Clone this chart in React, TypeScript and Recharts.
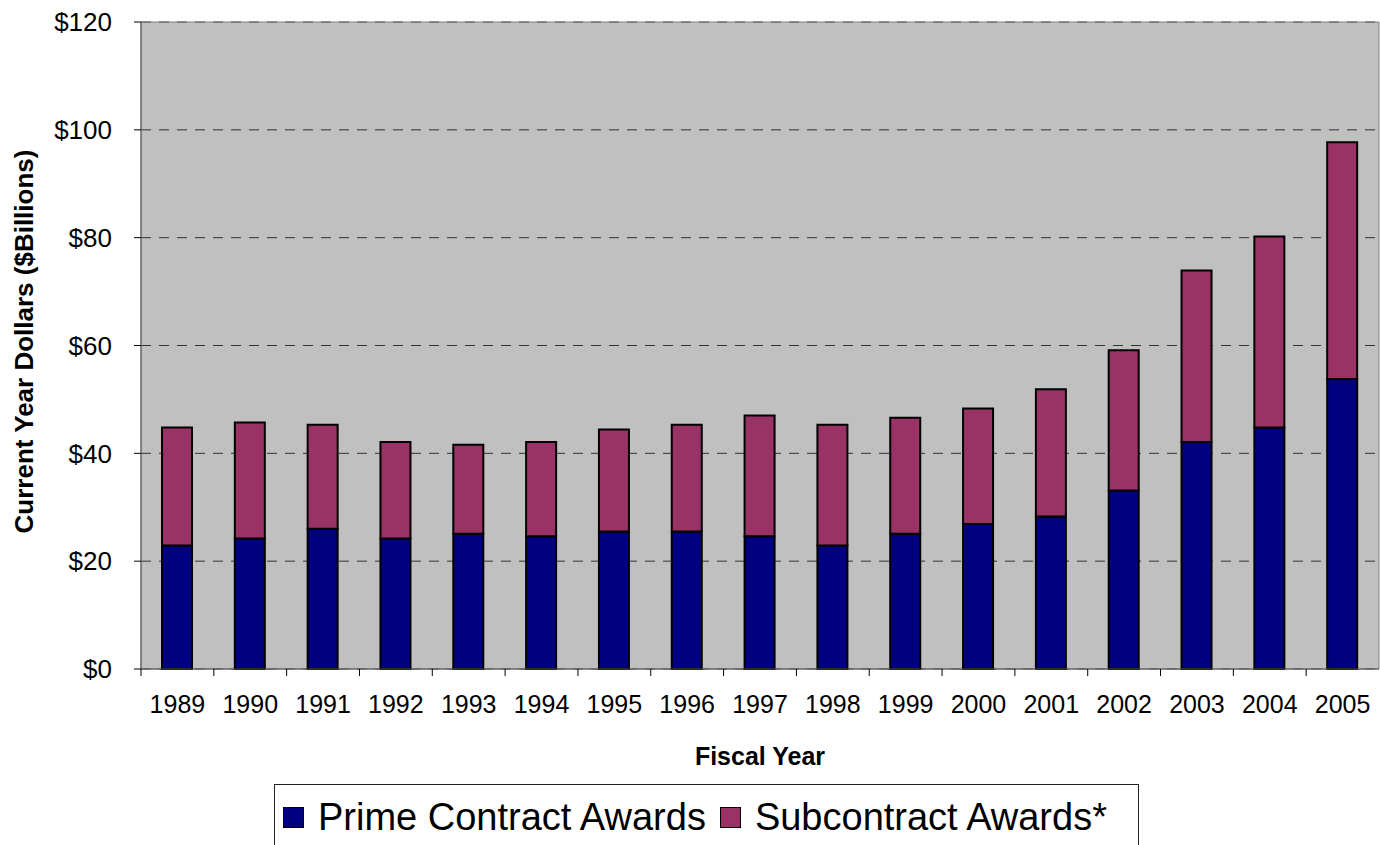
import { BarChart, Bar, XAxis, YAxis, CartesianGrid, ReferenceArea } from 'recharts'

// Fiscal years on the category axis
const YEARS = ['1989', '1990', '1991', '1992', '1993', '1994', '1995', '1996', '1997', '1998', '1999', '2000', '2001', '2002', '2003', '2004', '2005']

// $ billions
const PRIME = [22.9, 24.2, 26.0, 24.2, 25.1, 24.6, 25.5, 25.5, 24.6, 22.9, 25.1, 26.9, 28.3, 33.1, 42.1, 44.8, 53.8]
const SUBCONTRACT = [21.9, 21.5, 19.3, 17.9, 16.5, 17.5, 18.9, 19.8, 22.4, 22.4, 21.5, 21.4, 23.6, 26.0, 31.8, 35.4, 43.9]

const Y_TICKS = [0, 20, 40, 60, 80, 100, 120]

const SERIES_NAMES = ['Prime Contract Awards', 'Subcontract Awards*']
const SERIES_COLORS = ['#000080', '#993366']

const W = 1380
const H = 845
const MARGIN = { top: 22, right: 1, left: 0, bottom: 0 }
const Y_AXIS_W = 141
const X_AXIS_H = 176
const FONT = 'Arial, "Liberation Sans", Helvetica, sans-serif'

const plotW = W - MARGIN.left - MARGIN.right - Y_AXIS_W
const band = plotW / YEARS.length
const TICK_SIZE = 7
const TICK_MARGIN = 19

const chartData = YEARS.map((year, i) => ({
  year,
  prime: PRIME[i],
  sub: SUBCONTRACT[i],
}))

// year label plus a small tick mark on the left edge of each category (Excel style)
const YearTick = (props: any) => {
  const { x, y, payload } = props
  const edge = x - band / 2
  const axisY = y - TICK_SIZE - TICK_MARGIN
  return (
    <g>
      <line x1={edge} x2={edge} y1={axisY} y2={axisY + TICK_SIZE} stroke="#000" strokeWidth={1} />
      <text x={x} y={y} dy="0.71em" textAnchor="middle" fontSize={25} fontFamily={FONT} fill="#000">
        {payload.value}
      </text>
    </g>
  )
}

const XTitle = (props: any) => {
  const vb = props.viewBox
  return (
    <text x={vb.x + vb.width / 2} y={vb.y + 96} textAnchor="middle" fontSize={25} fontWeight="bold" fontFamily={FONT} fill="#000">
      Fiscal Year
    </text>
  )
}

const YTitle = (props: any) => {
  const vb = props.viewBox
  return (
    <text
      transform={`translate(${vb.x + 33}, ${vb.y + vb.height / 2 - 4}) rotate(-90)`}
      textAnchor="middle"
      fontSize={26}
      fontWeight="bold"
      fontFamily={FONT}
      fill="#000"
    >
      Current Year Dollars ($Billions)
    </text>
  )
}

export default function App() {
  return (
    <div style={{ position: 'absolute', left: 0, top: 0, width: W, height: H, background: '#fff', overflow: 'hidden' }}>
      <BarChart width={W} height={H} data={chartData} margin={MARGIN} barSize={30}>
        <CartesianGrid vertical={false} fill="#C0C0C0" stroke="#333" strokeDasharray="10 8" />
        <XAxis
          dataKey="year"
          height={X_AXIS_H}
          tickLine={false}
          tickSize={TICK_SIZE}
          tickMargin={TICK_MARGIN}
          axisLine={{ stroke: '#555' }}
          tick={<YearTick />}
          interval={0}
          label={<XTitle />}
        />
        <YAxis
          width={Y_AXIS_W}
          domain={[0, 120]}
          ticks={Y_TICKS}
          tickFormatter={(v: number) => `$${v}`}
          tickSize={TICK_SIZE}
          tickMargin={22}
          tickLine={{ stroke: '#000' }}
          axisLine={{ stroke: '#555' }}
          tick={{ fontSize: 26, fontFamily: FONT, fill: '#000' }}
          label={<YTitle />}
        />
        <ReferenceArea y1={0} y2={120} fill="none" stroke="#808080" strokeWidth={1} ifOverflow="visible" />
        <Bar dataKey="prime" name={SERIES_NAMES[0]} stackId="a" fill={SERIES_COLORS[0]} stroke="#000" strokeWidth={2} isAnimationActive={false} />
        <Bar dataKey="sub" name={SERIES_NAMES[1]} stackId="a" fill={SERIES_COLORS[1]} stroke="#000" strokeWidth={2} isAnimationActive={false} />
      </BarChart>

      {/* legend box, partly cut off by the bottom edge like the original */}
      <div
        style={{
          position: 'absolute',
          left: 274,
          top: 784,
          width: 865,
          height: 80,
          border: '1px solid #222',
          boxSizing: 'border-box',
          background: '#fff',
          display: 'flex',
          alignItems: 'flex-start',
          paddingLeft: 8,
          paddingTop: 12,
          fontFamily: FONT,
          fontSize: 38,
          lineHeight: '40px',
          color: '#000',
        }}
      >
        {SERIES_NAMES.map((name, i) => (
          <div key={name} style={{ display: 'flex', alignItems: 'center', marginRight: 14 }}>
            <span
              style={{
                display: 'inline-block',
                width: 21,
                height: 21,
                background: SERIES_COLORS[i],
                border: '1.5px solid #000',
                boxSizing: 'border-box',
                marginRight: 14,
              }}
            />
            <span>{name}</span>
          </div>
        ))}
      </div>
    </div>
  )
}
